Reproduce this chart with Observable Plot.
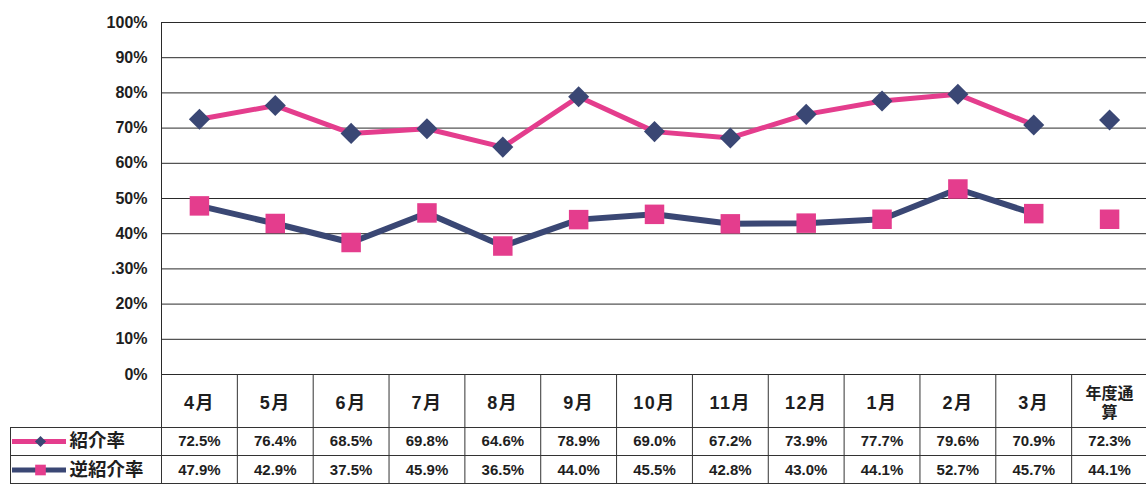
<!DOCTYPE html>
<html><head><meta charset="utf-8">
<script src="https://cdn.jsdelivr.net/npm/d3@7"></script>
<script src="https://cdn.jsdelivr.net/npm/@observablehq/plot@0.6"></script>
<style>html,body{margin:0;padding:0;background:#fff} svg{display:block}</style>
</head><body><div id="chart"></div>
<script>
// ---- data ----
const categories = ["4月","5月","6月","7月","8月","9月","10月","11月","12月","1月","2月","3月","年度通\n算"];
const referralRate = [72.5,76.4,68.5,69.8,64.6,78.9,69.0,67.2,73.9,77.7,79.6,70.9,72.3];
const reverseReferralRate = [47.9,42.9,37.5,45.9,36.5,44.0,45.5,42.8,43.0,44.1,52.7,45.7,44.1];
const seriesNames = ["紹介率","逆紹介率"];
const yTicks = [0,10,20,30,40,50,60,70,80,90,100];
const yTickLabels = ["0%","10%","20%",".30%","40%","50%","60%","70%","80%","90%","100%"];
const monthCount = 12; // the annual total is not joined by the line

// ---- layout ----
const W = 1146, H = 484;
const mL = 161, mR = -1, mT = 22, mB = 110;
const colW = (W - mL - mR) / categories.length;
const pxPerUnit = (H - mB - mT) / 100;
const X = p => (p - mL) / colW - 0.5;          // pixel -> x value
const Y = p => (H - mB - p) / pxPerUnit;        // pixel -> y value

const pink = "#e43d8d", navy = "#3a4774";
const sans = "Liberation Sans, Arial, 'Noto Sans CJK JP', sans-serif";

const idx = categories.map((_, i) => i);
const boundaries = d3.range(categories.length + 1).map(i => i - 0.5);
const months = idx.slice(0, monthCount);

const rowHeader = Y(402), row1 = Y(441), row2 = Y(469.5);
const lineHdr = Y(427), lineMid = Y(455), lineBot = Y(483);
const bottom = Y(H);

const chart = Plot.plot({
  width: W, height: H,
  marginLeft: mL, marginRight: mR, marginTop: mT, marginBottom: mB,
  x: {domain: [-0.5, categories.length - 0.5], axis: null},
  y: {domain: [0, 100], axis: null},
  style: {background: "#fff", fontFamily: sans},
  marks: [
    // gridlines
    Plot.ruleY(yTicks, {y: d => d, x1: -0.5, x2: categories.length - 0.5, stroke: "#2a2a2a", strokeWidth: 1}),
    // left axis line
    Plot.ruleX([-0.5], {x: d => d, y1: 0, y2: 100, stroke: "#2a2a2a", strokeWidth: 1}),
    // y tick labels
    Plot.text(yTicks, {y: d => d, text: (d, i) => yTickLabels[i], frameAnchor: "left", dx: -14, textAnchor: "end",
      fontSize: 16, fontWeight: "bold", fill: "#1e1e1e"}),
    // table grid
    Plot.ruleX(boundaries, {x: d => d, y1: 0, y2: bottom, stroke: "#333", strokeWidth: 1}),
    Plot.ruleY([lineHdr, lineMid, lineBot], {y: d => d, x1: X(10), x2: categories.length - 0.5, stroke: "#333", strokeWidth: 1}),
    Plot.ruleX([X(10)], {x: d => d, y1: lineHdr, y2: bottom, stroke: "#333", strokeWidth: 1}),
    // header labels
    Plot.text(idx, {x: d => d, y: rowHeader, text: d => categories[d], fontSize: d => d === 12 ? 16 : 18, fontWeight: "bold",
      fill: "#1e1e1e", lineHeight: 1.15}),
    // values
    Plot.text(idx, {x: d => d, y: row1, text: d => referralRate[d].toFixed(1) + "%", fontSize: 15, fontWeight: "bold", fill: "#1e1e1e"}),
    Plot.text(idx, {x: d => d, y: row2, text: d => reverseReferralRate[d].toFixed(1) + "%", fontSize: 15, fontWeight: "bold", fill: "#1e1e1e"}),
    // legend in row headers
    Plot.ruleY([row1], {y: d => d, x1: X(12), x2: X(66), stroke: pink, strokeWidth: 5}),
    Plot.dot([row1], {x: X(40), y: d => d, symbol: "diamond2", r: 5, fill: navy, stroke: "none"}),
    Plot.ruleY([row2], {y: d => d, x1: X(12), x2: X(66), stroke: navy, strokeWidth: 5}),
    Plot.dot([row2], {x: X(40), y: d => d, symbol: "square", r: 6, fill: pink, stroke: "none"}),
    Plot.text(seriesNames, {x: X(69), y: (d, i) => i === 0 ? row1 : row2, text: d => d, textAnchor: "start",
      fontSize: 18.5, fontWeight: "bold", fill: "#1e1e1e", fontFamily: "'Noto Sans CJK JP', sans-serif"}),
    // series lines (monthly only)
    Plot.line(months, {x: d => d, y: d => referralRate[d], stroke: pink, strokeWidth: 5}),
    Plot.line(months, {x: d => d, y: d => reverseReferralRate[d], stroke: navy, strokeWidth: 6}),
    // markers
    Plot.dot(idx, {x: d => d, y: d => referralRate[d], symbol: "diamond2", r: 9.5, fill: navy, stroke: "none"}),
    Plot.dot(idx, {x: d => d, y: d => reverseReferralRate[d], symbol: "square", r: 11, fill: pink, stroke: "none"})
  ]
});
// slightly spaced month headers, as in the source table
const headerSet = new Set(categories);
d3.select(chart).selectAll("text").filter(function() { return headerSet.has(this.textContent) && !this.textContent.includes("年"); })
  .attr("letter-spacing", "1.5px");
document.getElementById("chart").append(chart);
</script>
</body></html>
